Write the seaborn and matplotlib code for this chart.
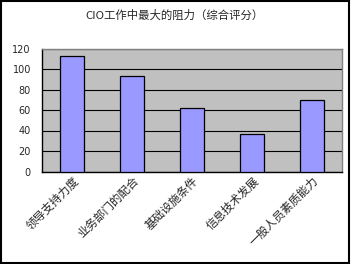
import matplotlib
matplotlib.use("Agg")
import matplotlib.pyplot as plt
import seaborn as sns
import pandas as pd
from matplotlib.patches import Rectangle

title = "CIO工作中最大的阻力（综合评分）"
categories = ["领导支持力度", "业务部门的配合", "基础设施条件", "信息技术发展", "一般人员素质能力"]
values = [113, 93, 62, 37, 70]
yticks = [0, 20, 40, 60, 80, 100, 120]

sns.set_style("white")
plt.rcParams['font.family'] = ['Noto Sans CJK SC', 'DejaVu Sans']

df = pd.DataFrame({"category": categories, "value": values})

fig = plt.figure(figsize=(3.51, 2.64), dpi=100)
ax = fig.add_axes([42/351, 1 - 171.5/264, 300/351, 123/264])
ax.set_facecolor("#C0C0C0")

sns.barplot(data=df, x="category", y="value", ax=ax, color="#9999FF",
            width=0.4, edgecolor="black", linewidth=0.9, saturation=1, zorder=3)

ax.set_ylim(0, 120)
ax.set_xlim(-0.5, len(categories) - 0.5)
ax.set_yticks(yticks)
ax.set_yticklabels([str(t) for t in yticks], fontsize=7, family="DejaVu Sans")
ax.yaxis.grid(True, color="black", linewidth=0.8, zorder=1)
ax.set_axisbelow(True)
ax.tick_params(axis="y", length=0, pad=8)
ax.tick_params(axis="x", which="major", length=0, pad=2)
ax.set_xticks([i + 0.5 for i in range(len(categories) - 1)], minor=True)
ax.tick_params(axis="x", which="minor", direction="in", length=3, width=0.8, color="black")
ax.set_xticklabels(categories, rotation=45, ha="right", rotation_mode="anchor", fontsize=8.3)
ax.set_xlabel("")
ax.set_ylabel("")

for s in ["left", "bottom"]:
    ax.spines[s].set_color("black")
    ax.spines[s].set_linewidth(1.0)
for s in ["top", "right"]:
    ax.spines[s].set_color("#808080")
    ax.spines[s].set_linewidth(1.0)

fig.text(175/351, 1 - 15/264, title, ha="center", va="center", fontsize=8.2)

fig.patches.append(Rectangle((0.002, 0.004), 0.993, 0.993, transform=fig.transFigure,
                             fill=False, edgecolor="black", linewidth=1.5))

fig.savefig("out.png", dpi=100, facecolor="white")
